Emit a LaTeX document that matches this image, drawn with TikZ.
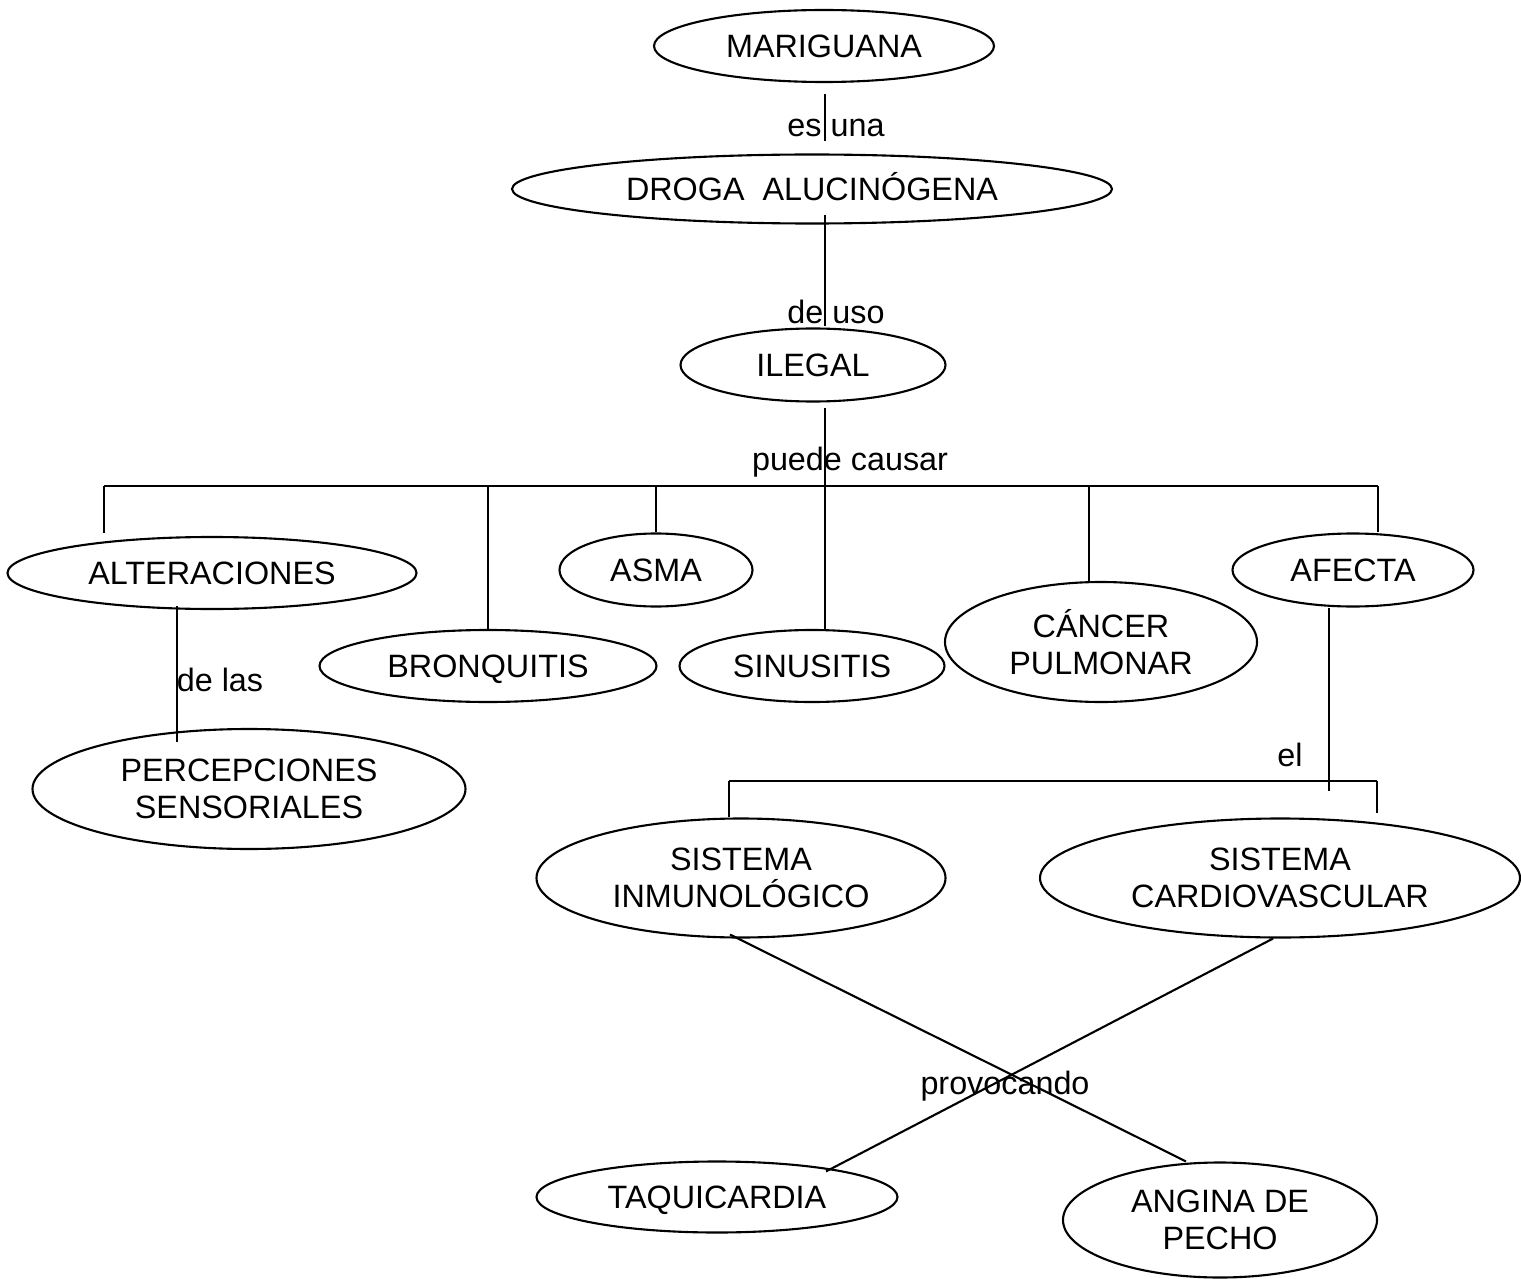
\documentclass[tikz,border=0pt]{standalone}
\usepackage{fontspec}
\setmainfont{Liberation Sans}
\usetikzlibrary{shapes.geometric}

\begin{document}
\begin{tikzpicture}[line width=0.6pt,
    concepto/.style={draw, ellipse, inner sep=0pt, align=center,
      font=\fontsize{9.2}{10.4}\selectfont},
    unalinea/.style={text height=6.6pt, text depth=0pt},
    enlace/.style={inner sep=0pt, font=\fontsize{9.2}{10.4}\selectfont}]
  \useasboundingbox (0,0) rectangle (15.21,-12.79);
  % conceptos
  \node[concepto, unalinea, minimum width=3.40cm, minimum height=0.72cm] (mari) at (8.24,-0.46) {MARIGUANA};
  \node[concepto, unalinea, minimum width=6.00cm, minimum height=0.69cm] (droga) at (8.12,-1.89) {DROGA\ \ ALUCIN\'OGENA};
  \node[concepto, unalinea, minimum width=2.65cm, minimum height=0.73cm] (ilegal) at (8.13,-3.65) {ILEGAL};
  \node[concepto, unalinea, minimum width=4.09cm, minimum height=0.72cm] (alter) at (2.12,-5.73) {ALTERACIONES};
  \node[concepto, unalinea, minimum width=1.93cm, minimum height=0.73cm] (asma) at (6.56,-5.70) {ASMA};
  \node[concepto, unalinea, minimum width=2.41cm, minimum height=0.73cm] (afecta) at (13.53,-5.70) {AFECTA};
  \node[concepto, unalinea, minimum width=3.37cm, minimum height=0.72cm] (bronq) at (4.88,-6.66) {BRONQUITIS};
  \node[concepto, unalinea, minimum width=2.65cm, minimum height=0.72cm] (sinus) at (8.12,-6.66) {SINUSITIS};
  \node[concepto, minimum width=3.12cm, minimum height=1.20cm] (cancer) at (11.01,-6.42) {C\'ANCER\\PULMONAR};
  \node[concepto, minimum width=4.33cm, minimum height=1.20cm] (percep) at (2.49,-7.89) {PERCEPCIONES\\SENSORIALES};
  \node[concepto, minimum width=4.09cm, minimum height=1.19cm] (inmuno) at (7.41,-8.78) {SISTEMA\\INMUNOL\'OGICO};
  \node[concepto, minimum width=4.80cm, minimum height=1.19cm] (cardio) at (12.80,-8.78) {SISTEMA\\CARDIOVASCULAR};
  \node[concepto, unalinea, minimum width=3.61cm, minimum height=0.71cm] (taqui) at (7.17,-11.97) {TAQUICARDIA};
  \node[concepto, minimum width=3.14cm, minimum height=1.15cm] (angina) at (12.20,-12.20) {ANGINA DE\\PECHO};

  % palabras de enlace
  \node[enlace] (esuna) at (8.36,-1.28) {es una};
  \node[enlace] (deuso) at (8.36,-3.12) {de uso};
  \node[enlace] (puede) at (8.50,-4.62) {puede causar};
  \node[enlace] (delas) at (2.20,-6.80) {de las};
  \node[enlace] (el) at (12.90,-7.55) {el};
  \node[enlace] (provoca) at (10.05,-10.86) {provocando};

  % eje central
  \coordinate (eje) at (8.25,0);
  \draw[shorten <=0.11cm, shorten >=0.12cm] (eje |- mari.south) -- (eje |- droga.north);
  \draw[shorten <=-0.10cm, shorten >=0.01cm] (eje |- droga.south) -- (eje |- ilegal.north);
  \draw[shorten <=0.05cm] (eje |- ilegal.south) -- (eje |- sinus.north);

  % puede causar
  \coordinate (busW) at (1.04,-4.86);
  \coordinate (busE) at (13.78,-4.86);
  \coordinate (dropC) at (10.89,-4.86);
  \draw (busW) -- (busE);
  \draw[shorten >=0.03cm] (busW) -- (busW |- alter.north);
  \draw (busW -| bronq.north) -- (bronq.north);
  \draw (busW -| asma.north) -- (asma.north);
  \draw (dropC) -- (dropC |- cancer.north);
  \draw (busE) -- (busE |- afecta.north);

  % de las
  \coordinate (lasX) at (1.77,0);
  \draw[shorten <=-0.04cm, shorten >=-0.14cm] (lasX |- alter.south) -- (lasX |- percep.north);

  % el
  \coordinate (elW) at (7.29,-7.81);
  \coordinate (elE) at (13.77,-7.81);
  \coordinate (elEnd) at (13.29,-7.91);
  \draw (elW) -- (elE);
  \draw (elEnd |- afecta.south) -- (elEnd);
  \draw (elW) -- (elW |- inmuno.north);
  \draw[shorten >=0.04cm] (elE) -- (elE |- cardio.north);

  % provocando
  \draw ([xshift=-0.11cm, yshift=0.04cm]inmuno.south) -- ([xshift=-0.34cm]angina.north);
  \draw ([xshift=-0.07cm]cardio.south) -- ([xshift=1.09cm, yshift=-0.11cm]taqui.north);
\end{tikzpicture}
\end{document}
